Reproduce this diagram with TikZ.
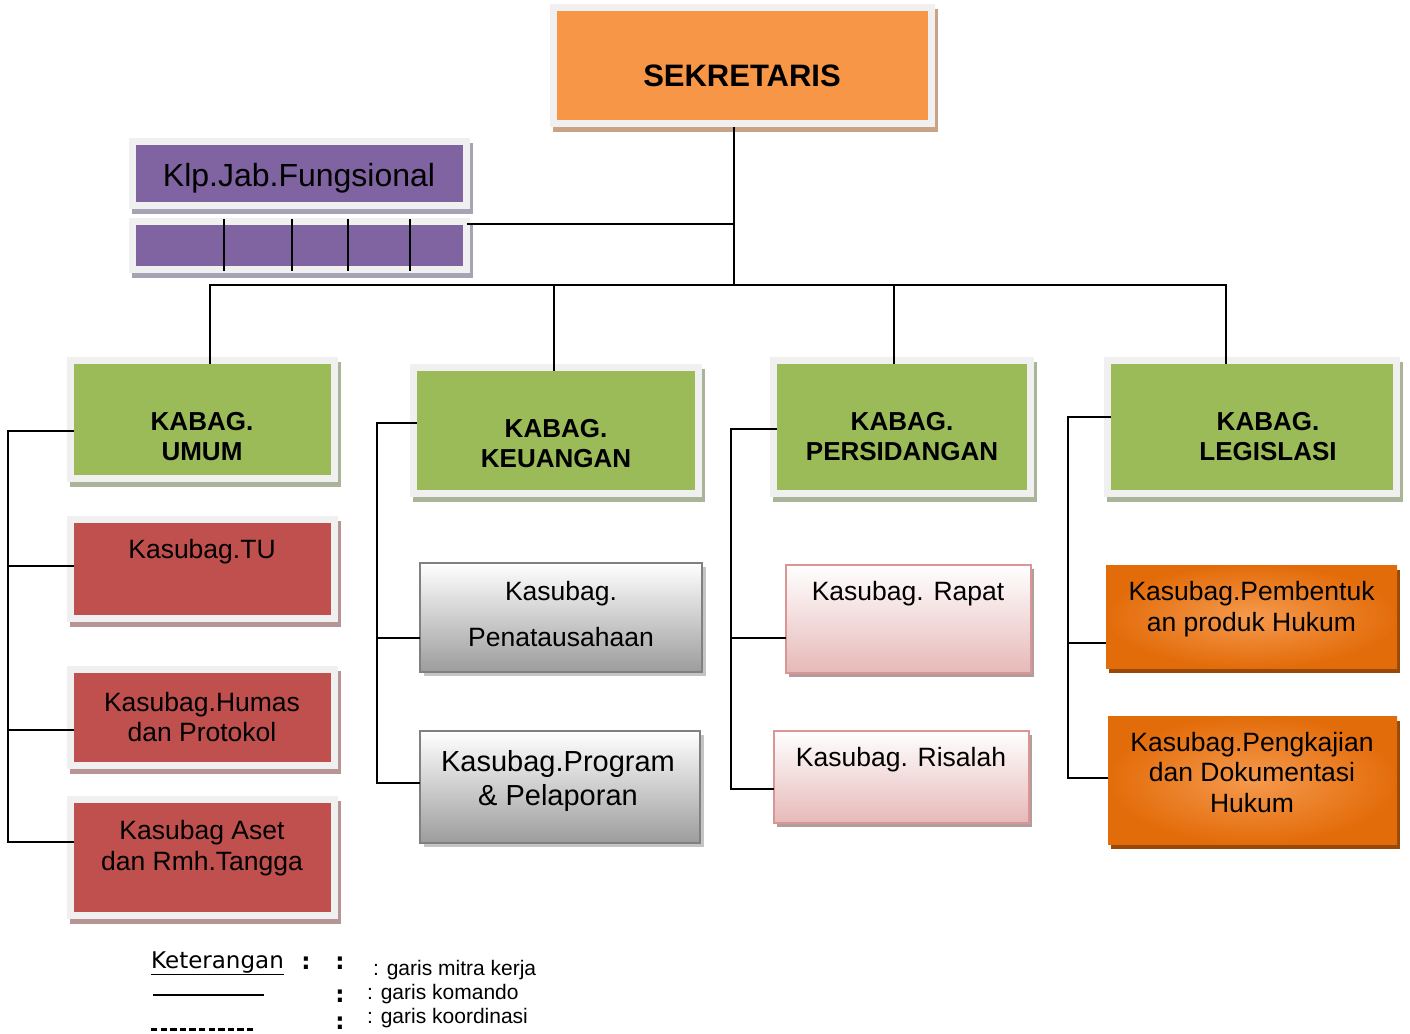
\documentclass[tikz,border=0pt]{standalone}
\usepackage{fontspec}
\setmainfont{Liberation Sans}
\newfontfamily\tahomafont{DejaVu Sans}

\definecolor{bingkai}{HTML}{F0F0F0}
\definecolor{oranye}{HTML}{F79646}
\definecolor{bayangoranye}{HTML}{C9A386}
\definecolor{ungu}{HTML}{8064A2}
\definecolor{bayangungu}{HTML}{A8A3B4}
\definecolor{hijau}{HTML}{9BBB59}
\definecolor{bayanghijau}{HTML}{AAB499}
\definecolor{merah}{HTML}{C0504D}
\definecolor{bayangmerah}{HTML}{B79595}
\definecolor{abu}{HTML}{9C9C9C}
\definecolor{tepiabu}{HTML}{808080}
\definecolor{bayangabu}{HTML}{C4C4C4}
\definecolor{merahmuda}{HTML}{E6B9B8}
\definecolor{tepimuda}{HTML}{D99694}
\definecolor{bayangmuda}{HTML}{B39C9C}
\definecolor{jingga}{HTML}{E36C0A}
\definecolor{jinggamuda}{HTML}{F59A4E}
\definecolor{bayangjingga}{HTML}{984807}

\tikzset{
  komando/.style={draw=black, line width=2pt},
  kotak/.style={rectangle, draw=bingkai, line width=7pt, inner sep=0pt, outer sep=-3.5pt,
    preaction={draw=#1, fill=#1, transform canvas={xshift=3pt, yshift=-5pt}}},
  kabag/.style={kotak=bayanghijau, fill=hijau},
  subumum/.style={kotak=bayangmerah, fill=merah},
  subkeu/.style={rectangle, draw=tepiabu, line width=2pt, inner sep=0pt, outer sep=0pt,
    top color=white, bottom color=abu,
    preaction={fill=bayangabu, transform canvas={xshift=4pt, yshift=-4pt}}},
  subsid/.style={rectangle, draw=tepimuda, line width=2pt, inner sep=0pt, outer sep=0pt,
    top color=white, bottom color=merahmuda,
    preaction={fill=bayangmuda, transform canvas={xshift=3pt, yshift=-4pt}}},
  subleg/.style={rectangle, inner sep=0pt, outer sep=0pt,
    inner color=jinggamuda, outer color=jingga,
    preaction={fill=bayangjingga, transform canvas={xshift=3pt, yshift=-5pt}}},
  tulis/.style={align=center, inner sep=0pt, font=\fontsize{26.5}{30.5}\selectfont},
  judul/.style={align=center, inner sep=0pt, font=\fontsize{26}{30}\selectfont\bfseries},
  ket/.style={inner sep=0pt, font=\fontsize{21}{24}\selectfont}
}

\begin{document}
\begin{tikzpicture}[x=1pt, y=-1pt]
  \useasboundingbox (0,0) rectangle (1410,1033);

  % kotak
  \node[kotak=bayangoranye, fill=oranye, minimum width=378pt, minimum height=116pt] (sek) at (742.5,65.5) {};
  \node[kotak=bayangungu, fill=ungu, minimum width=334pt, minimum height=64pt] (jab) at (299.5,173.5) {};
  \node[kotak=bayangungu, fill=ungu, minimum width=334pt, minimum height=48pt] (jabbar) at (299.5,245.5) {};

  \node[kabag, minimum width=264pt, minimum height=118pt] (umum) at (202.5,419.5) {};
  \node[kabag, minimum width=285pt, minimum height=126pt] (keu) at (556,430.5) {};
  \node[kabag, minimum width=257pt, minimum height=133pt] (sid) at (902,427) {};
  \node[kabag, minimum width=289pt, minimum height=133pt] (leg) at (1252,427) {};

  \node[subumum, minimum width=264pt, minimum height=99pt] (tu) at (202.5,569) {};
  \node[subumum, minimum width=264pt, minimum height=96pt] (humas) at (202.5,717.5) {};
  \node[subumum, minimum width=264pt, minimum height=116pt] (aset) at (202.5,857.5) {};

  \node[subkeu, minimum width=282pt, minimum height=109pt] (tata) at (561,617.5) {};
  \node[subkeu, minimum width=280pt, minimum height=112pt] (prog) at (560,787) {};

  \node[subsid, minimum width=245pt, minimum height=108pt] (rapat) at (908.5,619) {};
  \node[subsid, minimum width=255pt, minimum height=92pt] (risalah) at (901.5,777) {};

  \node[subleg, minimum width=291pt, minimum height=103pt] (bentuk) at (1251.5,616.5) {};
  \node[subleg, minimum width=289pt, minimum height=128pt] (kaji) at (1252.5,780) {};

  % garis
  \coordinate (hub) at (734,285);
  \coordinate (busL) at (210,285);
  \coordinate (busK) at (554,285);
  \coordinate (busS) at (894,285);
  \coordinate (busR) at (1226,285);
  \coordinate (jabj) at (734,224);
  \draw[komando] ([yshift=-7pt]sek.south -| hub) -- (hub);
  \draw[komando] ([xshift=3.5pt]jabbar.east |- jabj) -- (jabj);
  \foreach \x in {224,292,348,410}
    \draw[komando] (\x,219) -- (\x,271);
  \draw[komando] (busL |- umum.north) -- (busL) -- (busR) -- (busR |- leg.north);
  \draw[komando] (busK) -- (busK |- keu.north);
  \draw[komando] (busS) -- (busS |- sid.north);

  \coordinate (spU) at (8,431);
  \coordinate (spK) at (377,423);
  \coordinate (spS) at (731,429);
  \coordinate (spL) at (1068,417);
  \draw[komando] (umum.west |- spU) -- (spU) |- (aset.west |- 0,842);
  \draw[komando] (spU |- 0,566) -- (tu.west |- 0,566);
  \draw[komando] (spU |- 0,730) -- (humas.west |- 0,730);
  \draw[komando] (keu.west |- spK) -- (spK) |- (prog.west |- 0,783);
  \draw[komando] (spK |- 0,638) -- (tata.west |- 0,638);
  \draw[komando] (sid.west |- spS) -- (spS) |- (risalah.west |- 0,789);
  \draw[komando] (spS |- 0,638) -- (rapat.west |- 0,638);
  \draw[komando] (leg.west |- spL) -- (spL) |- (kaji.west |- 0,778);
  \draw[komando] (spL |- 0,643) -- (bentuk.west |- 0,643);

  % tulisan
  \node[inner sep=0pt, font=\fontsize{31}{36}\selectfont\bfseries] (sekT) at (742,76) {SEKRETARIS};
  \node[inner sep=0pt, font=\fontsize{32}{36}\selectfont] (jabT) at (299,178) {Klp.Jab.Fungsional};
  \node[judul] (umumT) at (202,437) {KABAG.\\UMUM};
  \node[judul] (keuT) at (556,443.5) {KABAG.\\KEUANGAN};
  \node[judul] (sidT) at (902,437) {KABAG.\\PERSIDANGAN};
  \node[judul] (legT) at (1268,437) {KABAG.\\LEGISLASI};
  \node[tulis] (tuT) at (202,552) {Kasubag.TU};
  \node[tulis] (humasT) at (202,717) {Kasubag.Humas\\dan Protokol};
  \node[tulis] (asetT) at (202,848) {Kasubag Aset\\dan Rmh.Tangga};
  \node[tulis] (tataT) at (561,614) {Kasubag.\\[15pt]Penatausahaan};
  \node[tulis, font=\fontsize{29}{33.3}\selectfont] (progT) at (558,781) {Kasubag.Program\\\& Pelaporan};
  \node[tulis] (rapatT) at (908,594) {Kasubag. Rapat};
  \node[tulis] (risalahT) at (901,760) {Kasubag. Risalah};
  \node[tulis] (bentukT) at (1251.5,609) {Kasubag.Pembentuk\\an produk Hukum};
  \node[tulis] (kajiT) at (1252,772.5) {Kasubag.Pengkajian\\dan Dokumentasi\\Hukum};

  % keterangan
  \node[inner sep=0pt, anchor=base, font=\tahomafont\fontsize{23}{27}\selectfont] (ket) at (217.5,968.7) {Keterangan};
  \draw[line width=1.5pt] ([yshift=-1pt]ket.south west) -- ([yshift=-1pt]ket.south east);
  \node[inner sep=0pt, font=\tahomafont\fontsize{23}{27}\selectfont\bfseries] (ketc) at (306,963) {:};
  \node[inner sep=0pt, font=\tahomafont\fontsize{23}{27}\selectfont\bfseries] (tk1) at (340,963) {:};
  \node[inner sep=0pt, font=\tahomafont\fontsize{23}{27}\selectfont\bfseries] (tk2) at (340,996) {:};
  \node[inner sep=0pt, font=\tahomafont\fontsize{23}{27}\selectfont\bfseries] (tk3) at (340,1023) {:};
  \node[ket, anchor=base west] (mitra) at (373,975) {: garis mitra kerja};
  \node[ket, anchor=base west] (kmd) at (367,999) {: garis komando};
  \node[ket, anchor=base west] (kdn) at (367,1023) {: garis koordinasi};
  \draw[line width=1.5pt] (153,995) -- (264,995);
  \draw[line width=3pt, dash pattern=on 6.4pt off 3.2pt] (151,1029) -- (256,1029);
\end{tikzpicture}
\end{document}
